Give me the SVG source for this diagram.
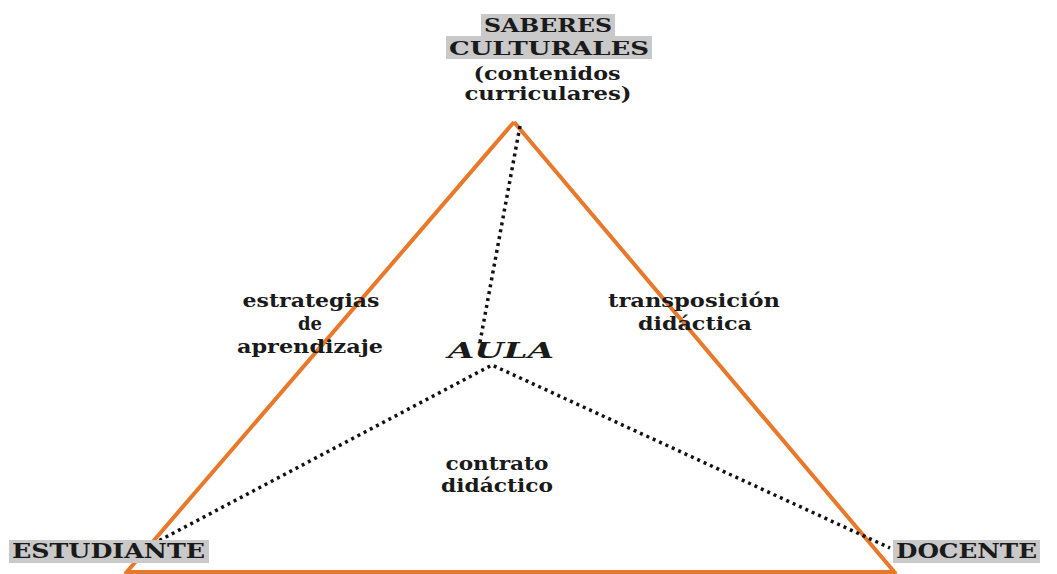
<svg xmlns="http://www.w3.org/2000/svg" width="1057" height="574" viewBox="0 0 1057 574">
<style>
.t{font-family:"DejaVu Serif","Liberation Serif",serif;font-weight:bold;fill:#1a1a1a;}
.hl{fill:#c9c9c9;}
.edge{stroke:#e8782a;stroke-width:4;fill:none;stroke-linecap:butt;}
.dot{stroke:#111;stroke-width:3.5;fill:none;stroke-dasharray:3 4;}
</style>
<rect width="1057" height="574" fill="#ffffff"/>
<g id="connectors">
<line class="edge" x1="514" y1="122" x2="125" y2="574"/>
<line class="edge" x1="514" y1="122" x2="896" y2="574"/>
<line class="edge" x1="128" y1="572" x2="894" y2="572"/>
<polyline class="dot" points="520,126 480,342"/>
<polyline class="dot" points="147,547 492,365 890,548"/>
</g>
<g id="saberes">
<rect class="hl" x="481" y="14" width="134" height="22"/>
<rect class="hl" x="446" y="36" width="206" height="23"/>
<text class="t" x="548" y="32" font-size="19" text-anchor="middle" textLength="128" lengthAdjust="spacingAndGlyphs">SABERES</text>
<text class="t" x="549" y="55" font-size="19" text-anchor="middle" textLength="200" lengthAdjust="spacingAndGlyphs">CULTURALES</text>
<text class="t" x="547" y="80" font-size="19" text-anchor="middle" textLength="147" lengthAdjust="spacingAndGlyphs">(contenidos</text>
<text class="t" x="548" y="100" font-size="19" text-anchor="middle" textLength="167" lengthAdjust="spacingAndGlyphs">curriculares)</text>
</g>
<g id="estudiante">
<rect class="hl" x="9" y="540" width="200" height="23"/>
<text class="t" x="12" y="558" font-size="20" textLength="193" lengthAdjust="spacingAndGlyphs">ESTUDIANTE</text>
</g>
<g id="docente">
<rect class="hl" x="893" y="540" width="147" height="23"/>
<text class="t" x="896" y="558" font-size="20" textLength="141" lengthAdjust="spacingAndGlyphs">DOCENTE</text>
</g>
<g id="aula">
<text class="t" x="448" y="358" font-size="22" font-style="italic" textLength="106" lengthAdjust="spacingAndGlyphs">AULA</text>
</g>
<g id="estrategias">
<text class="t" x="311" y="307" font-size="18" text-anchor="middle" textLength="137" lengthAdjust="spacingAndGlyphs">estrategias</text>
<text class="t" x="310" y="330" font-size="18" text-anchor="middle">de</text>
<text class="t" x="310" y="353" font-size="18" text-anchor="middle" textLength="146" lengthAdjust="spacingAndGlyphs">aprendizaje</text>
</g>
<g id="transposicion">
<text class="t" x="694" y="307" font-size="18" text-anchor="middle" textLength="172" lengthAdjust="spacingAndGlyphs">transposición</text>
<text class="t" x="695" y="330" font-size="18" text-anchor="middle" textLength="114" lengthAdjust="spacingAndGlyphs">didáctica</text>
</g>
<g id="contrato">
<text class="t" x="497" y="470" font-size="18" text-anchor="middle" textLength="103" lengthAdjust="spacingAndGlyphs">contrato</text>
<text class="t" x="497" y="492" font-size="18" text-anchor="middle" textLength="112" lengthAdjust="spacingAndGlyphs">didáctico</text>
</g>
</svg>
